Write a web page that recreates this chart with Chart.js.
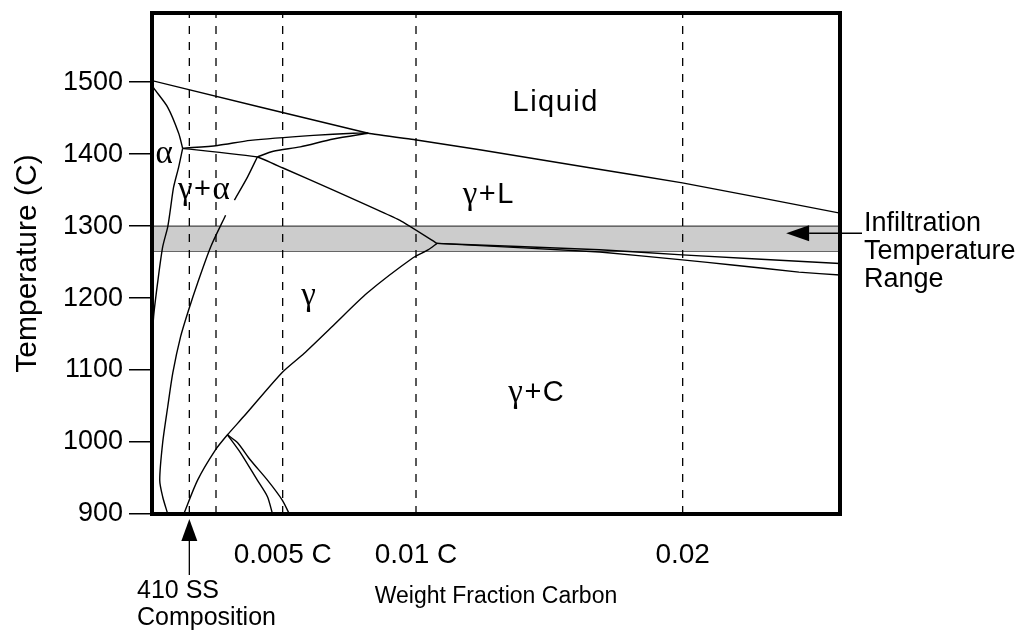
<!DOCTYPE html>
<html>
<head>
<meta charset="utf-8">
<script src="https://cdn.jsdelivr.net/npm/chart.js@4.4.1/dist/chart.umd.min.js"></script>
<style>
  html, body { margin: 0; padding: 0; background: #fff; }
  #wrap { width: 1023px; height: 631px; }
</style>
</head>
<body>
<div id="wrap"><canvas id="phase" width="1023" height="631"></canvas></div>
<script>
// axis ticks
const yTicks = [900, 1000, 1100, 1200, 1300, 1400, 1500];
const xTicks = [0.005, 0.01, 0.02];
const xTickLabels = ['0.005 C', '0.01 C', '0.02'];

// dashed composition markers (weight fraction C)
const markC = [0.0015, 0.0025, 0.005, 0.01, 0.02];

// infiltration temperature band (C)
const bandC = [0, 0.0259];
const bandLow = [1265, 1265];
const bandHigh = [1300, 1300];

// liquidus (Liquid / gamma+L)
const liquidusC = [0, 0.00821, 0.00996, 0.01239, 0.01651, 0.01999, 0.0259];
const liquidusT = [1503, 1429, 1420, 1406, 1381, 1360, 1318];

// delta ferrite liquidus, pure Fe down to alpha corner
const deltaC = [0, 0.00016, 0.00069, 0.0011, 0.00125];
const deltaT = [1503, 1492, 1465, 1429, 1408];

// alpha corner to peritectic
const alphaLiqC = [0.00125, 0.00256, 0.00379, 0.00615, 0.00765, 0.00821];
const alphaLiqT = [1408, 1412, 1419, 1426, 1429, 1429];

// gamma corner to peritectic
const periC = [0.00405, 0.00465, 0.00566, 0.0069, 0.00821];
const periT = [1396, 1404, 1410, 1421, 1429];

// solidus: alpha corner -> gamma corner -> eutectic
const solidusC = [0.00125, 0.00405, 0.00499, 0.0069, 0.0094, 0.01079];
const solidusT = [1408, 1396, 1381, 1350, 1308, 1276];

// gamma / gamma+alpha boundary (gap where the label sits)
const gammaAlphaC = [0.00405, 0.00368, 0.00319, null, 0.00286, 0.0023, 0.00181, 0.00147, 0.00117, 0.00088, 0.00069, 0.0005, 0.00039, 0.0005, 0.00069];
const gammaAlphaT = [1396, 1368, 1336, null, 1315, 1271, 1221, 1183, 1146, 1096, 1049, 999, 947, 924, 900];

// alpha / gamma+alpha boundary
const alphaC = [0.00125, 0.0011, 0.00091, 0.0008, 0.00069, 0.0005, 0.00031, 0.00016, 0.0001];
const alphaT = [1408, 1382, 1354, 1326, 1299, 1271, 1221, 1174, 1130];

// gamma / gamma+C boundary
const acmC = [0.00129, 0.00181, 0.00248, 0.00293, 0.00353, 0.00499, 0.0058, 0.0069, 0.00817, 0.00989, 0.01045, 0.01079];
const acmT = [900, 947, 989, 1010, 1035, 1097, 1123, 1162, 1207, 1256, 1267, 1276];

// carbide lines below ~1010 C
const carbAC = [0.00293, 0.00342, 0.00405, 0.00443, 0.00462];
const carbAT = [1010, 985, 947, 924, 900];
const carbBC = [0.00293, 0.00331, 0.00379, 0.00443, 0.00499, 0.00525];
const carbBT = [1010, 999, 975, 947, 919, 900];

// lines from the eutectic to the right
const eutUpperC = [0.01079, 0.01689, 0.01999, 0.0259];
const eutUpperT = [1276, 1267, 1260, 1248];
const eutLowerC = [0.01079, 0.01689, 0.01999, 0.02186, 0.02436, 0.0259];
const eutLowerT = [1276, 1264, 1253, 1246, 1236, 1232];

const SANS = "'Liberation Sans', Arial, sans-serif";
const SERIF = "'Liberation Serif', 'Times New Roman', serif";

const pts = (c, t) => c.map((x, i) => ({ x: x, y: t[i] }));

const curve = (c, t, extra) => Object.assign({
    data: pts(c, t),
    showLine: true,
    borderColor: '#000',
    borderWidth: 1.4,
    pointRadius: 0,
    fill: false,
    tension: 0.25,
    order: 1
}, extra || {});

const datasets = [
    curve(bandC, bandHigh, { fill: '+1', backgroundColor: '#cccccc', borderColor: '#444', borderWidth: 1.3, tension: 0, order: 6 }),
    curve(bandC, bandLow, { borderColor: '#444', borderWidth: 1.3, tension: 0, order: 6 })
];
markC.forEach(c => {
    datasets.push(curve([c, c], [900, 1596], { borderDash: [8, 8], borderWidth: 1.3, tension: 0, order: 4 }));
});
datasets.push(
    curve(liquidusC, liquidusT, { tension: 0.1 }),
    curve(deltaC, deltaT),
    curve(alphaLiqC, alphaLiqT),
    curve(periC, periT),
    curve(solidusC, solidusT, { tension: 0.1 }),
    curve(gammaAlphaC, gammaAlphaT),
    curve(alphaC, alphaT),
    curve(acmC, acmT),
    curve(carbAC, carbAT),
    curve(carbBC, carbBT),
    curve(eutUpperC, eutUpperT, { tension: 0.1 }),
    curve(eutLowerC, eutLowerT, { tension: 0.1 })
);

function arrow(ctx, x1, y1, x2, y2, head, half) {
    const a = Math.atan2(y2 - y1, x2 - x1);
    const bx = x2 - head * Math.cos(a), by = y2 - head * Math.sin(a);
    ctx.beginPath();
    ctx.moveTo(x1, y1);
    ctx.lineTo(bx, by);
    ctx.stroke();
    ctx.beginPath();
    ctx.moveTo(x2, y2);
    ctx.lineTo(bx + half * Math.sin(a), by - half * Math.cos(a));
    ctx.lineTo(bx - half * Math.sin(a), by + half * Math.cos(a));
    ctx.closePath();
    ctx.fill();
}

// text runs with mixed fonts, centred on (cx, cy)
function runs(ctx, parts, cx, cy) {
    let w = 0;
    parts.forEach(p => { ctx.font = p[1]; w += ctx.measureText(p[0]).width; });
    let x = cx - w / 2;
    ctx.textAlign = 'left';
    ctx.textBaseline = 'middle';
    parts.forEach(p => {
        ctx.font = p[1];
        ctx.fillText(p[0], x, cy);
        x += ctx.measureText(p[0]).width;
    });
}

const annotations = {
    id: 'annotations',
    afterDatasetsDraw(chart) {
        const { ctx, chartArea: a, scales: { x, y } } = chart;
        ctx.save();
        // frame
        ctx.lineWidth = 4;
        ctx.strokeStyle = '#000';
        ctx.lineJoin = 'miter';
        ctx.strokeRect(a.left, a.top, a.right - a.left, a.bottom - a.top);

        ctx.fillStyle = '#000';
        ctx.letterSpacing = '1.5px';
        const s28 = '29px ' + SANS, g = '33px ' + SERIF;
        runs(ctx, [['Liquid', s28]], x.getPixelForValue(0.01524), y.getPixelForValue(1471));
        runs(ctx, [['\u03b3', g], ['+L', s28]], x.getPixelForValue(0.01273), y.getPixelForValue(1343));
        runs(ctx, [['\u03b3', g], ['+C', s28]], x.getPixelForValue(0.01453), y.getPixelForValue(1068));
        runs(ctx, [['\u03b3', g]], x.getPixelForValue(0.006), y.getPixelForValue(1203));
        runs(ctx, [['\u03b3', g], ['+', s28], ['\u03b1', g]], x.getPixelForValue(0.00207), y.getPixelForValue(1350));
        runs(ctx, [['\u03b1', g]], x.getPixelForValue(0.00058), y.getPixelForValue(1399));
        ctx.letterSpacing = '0px';

        // infiltration arrow and note
        ctx.lineWidth = 1.3;
        const ay = y.getPixelForValue(1290);
        arrow(ctx, a.right + 22, ay, x.getPixelForValue(0.02388), ay, 23, 8);
        ctx.font = '27px ' + SANS;
        ctx.textAlign = 'left';
        ctx.textBaseline = 'middle';
        ['Infiltration', 'Temperature', 'Range'].forEach((t, i) => {
            ctx.fillText(t, a.right + 24, a.top + 211 + i * 28);
        });

        // 410 SS composition arrow and note
        const cx = x.getPixelForValue(0.0015);
        arrow(ctx, cx, a.bottom + 61, cx, a.bottom + 5, 22, 8);
        ctx.font = '25px ' + SANS;
        ctx.fillText('410 SS', 137, a.bottom + 77);
        ctx.fillText('Composition', 137, a.bottom + 104);
        ctx.restore();
    }
};

Chart.defaults.color = '#000';
Chart.defaults.font.family = SANS;

new Chart(document.getElementById('phase'), {
    type: 'scatter',
    data: { datasets: datasets },
    options: {
        responsive: false,
        animation: false,
        events: [],
        layout: { padding: { left: 0, top: 13, right: 183, bottom: 0 } },
        plugins: { legend: { display: false }, tooltip: { enabled: false } },
        scales: {
            x: {
                type: 'linear',
                min: 0.0001,
                max: 0.0259,
                border: { display: false },
                grid: { display: false },
                afterBuildTicks: s => { s.ticks = xTicks.map(v => ({ value: v })); },
                afterFit: s => { s.height = 117; s.paddingLeft = 0; s.paddingRight = 0; },
                ticks: {
                    autoSkip: false,
                    maxRotation: 0,
                    padding: 16,
                    font: { size: 28 },
                    callback: v => xTickLabels[xTicks.indexOf(v)]
                },
                title: {
                    display: true,
                    text: 'Weight Fraction Carbon',
                    font: { size: 23 },
                    padding: { top: 0, bottom: 21 }
                }
            },
            y: {
                type: 'linear',
                min: 900,
                max: 1596,
                border: { display: false },
                grid: { drawOnChartArea: false, drawTicks: true, tickLength: 23, color: '#000', lineWidth: 1.5 },
                afterBuildTicks: s => { s.ticks = yTicks.map(v => ({ value: v })); },
                afterFit: s => { s.width = 152; s.paddingTop = 0; s.paddingBottom = 0; },
                ticks: {
                    padding: 6,
                    font: { size: 27 },
                    callback: v => String(v)
                },
                title: {
                    display: true,
                    text: 'Temperature (C)',
                    font: { size: 30 },
                    padding: { top: 10, bottom: 0 }
                }
            }
        }
    },
    plugins: [annotations]
});
</script>
</body>
</html>
